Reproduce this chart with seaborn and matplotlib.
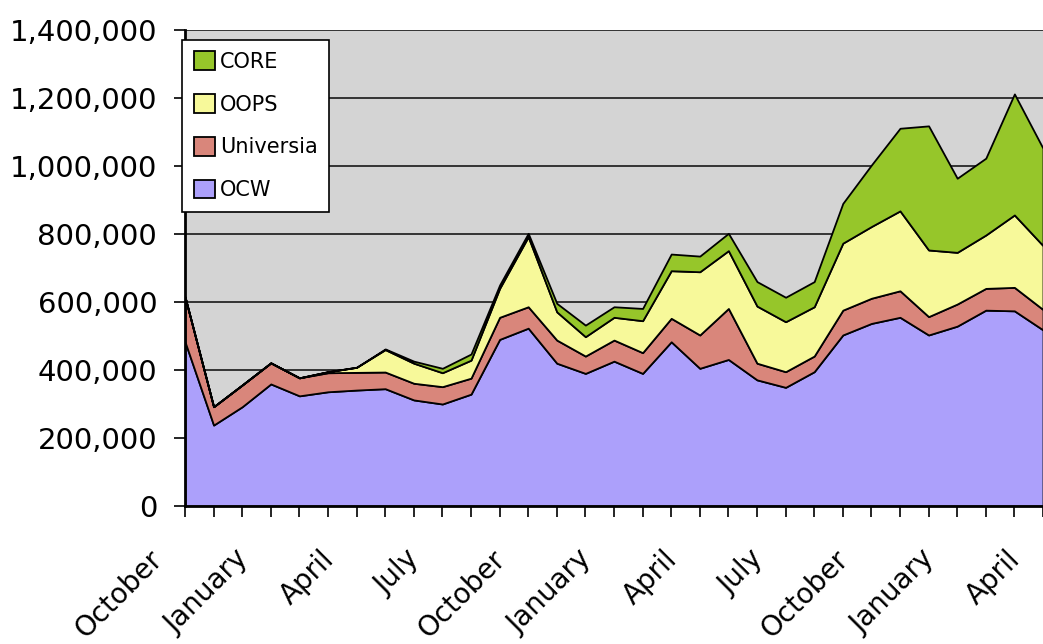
import numpy as np
import seaborn as sns
import matplotlib.pyplot as plt
from matplotlib.ticker import FuncFormatter
from matplotlib.transforms import ScaledTranslation

# monthly visits, starting in October
months = ['October', 'November', 'December', 'January', 'February', 'March',
          'April', 'May', 'June', 'July', 'August', 'September'] * 3
months = months[:31]

ocw = [483, 238, 292, 359, 324, 336, 341, 345, 312, 300, 329, 490, 523, 420, 390, 426,
       390, 483, 405, 431, 371, 349, 395, 503, 537, 555, 503, 529, 576, 574, 518]
universia = [132, 54, 64, 62, 53, 56, 52, 49, 49, 51, 47, 65, 63, 68, 51, 62,
             61, 69, 98, 150, 49, 46, 46, 73, 74, 78, 54, 65, 64, 69, 60]
oops = [0, 0, 0, 0, 0, 3, 15, 66, 59, 41, 53, 85, 206, 83, 57, 67,
        94, 140, 186, 170, 168, 147, 145, 197, 211, 235, 196, 152, 157, 213, 188]
core = [0, 0, 0, 0, 0, 0, 0, 2, 6, 13, 18, 10, 10, 25, 34, 31,
        36, 49, 46, 51, 72, 72, 74, 117, 181, 243, 365, 218, 226, 356, 286]

series = ['OCW', 'Universia', 'OOPS', 'CORE']
colors = ['#aca0fb', '#d9867b', '#f7f99a', '#96c62a']

sns.set_style('white')
plt.rcParams['font.family'] = ['DejaVu Sans']
plt.rcParams['text.color'] = 'black'

fig = plt.figure(figsize=(10.43, 6.44), dpi=100)
ax = fig.add_axes([185 / 1043, 138 / 644, 858 / 1043, 476 / 644])
ax.set_facecolor('#d4d4d4')

x = np.arange(len(ocw))
vals = [np.array(s) * 1000 for s in (ocw, universia, oops, core)]
polys = ax.stackplot(x, *vals, labels=series, colors=colors,
                     edgecolor='black', linewidth=1.3, zorder=2)

ax.set_xlim(0, 30)
ax.set_ylim(0, 1400000)
ax.set_yticks(range(0, 1400001, 200000))
ax.yaxis.set_major_formatter(FuncFormatter(lambda v, p: f'{int(v):,}'))
ax.yaxis.grid(True, color='#333333', linewidth=1.4, zorder=1)
ax.set_axisbelow(True)

ax.tick_params(axis='x', bottom=True, length=8, width=1.2, pad=20, colors='black')
ax.tick_params(axis='y', left=True, length=8, width=1.2, pad=12, labelsize=21, colors='black')

ax.set_xticks(x)
ax.set_xticklabels([m if i % 3 == 0 else '' for i, m in enumerate(months)],
                   rotation=45, ha='right', va='top', rotation_mode='anchor', fontsize=20)
# shift the slanted labels left so their ends sit like the original
offset = ScaledTranslation(-37 / 100, 0, fig.dpi_scale_trans)
for lab in ax.get_xticklabels():
    lab.set_transform(lab.get_transform() + offset)

for side in ['top', 'right']:
    ax.spines[side].set_visible(False)
for side in ['left', 'bottom']:
    ax.spines[side].set_color('black')
    ax.spines[side].set_linewidth(2)

handles, labels = ax.get_legend_handles_labels()
leg = ax.legend(handles[::-1], labels[::-1], loc='upper left', bbox_to_anchor=(-0.003, 0.979),
                borderaxespad=0, fontsize=15, frameon=True, fancybox=False,
                edgecolor='black', framealpha=1, labelspacing=1.07, borderpad=0.55,
                handlelength=1.0, handleheight=1.0, handletextpad=0.25)
leg.get_frame().set_linewidth(1.2)

fig.savefig('out.png', dpi=100)
